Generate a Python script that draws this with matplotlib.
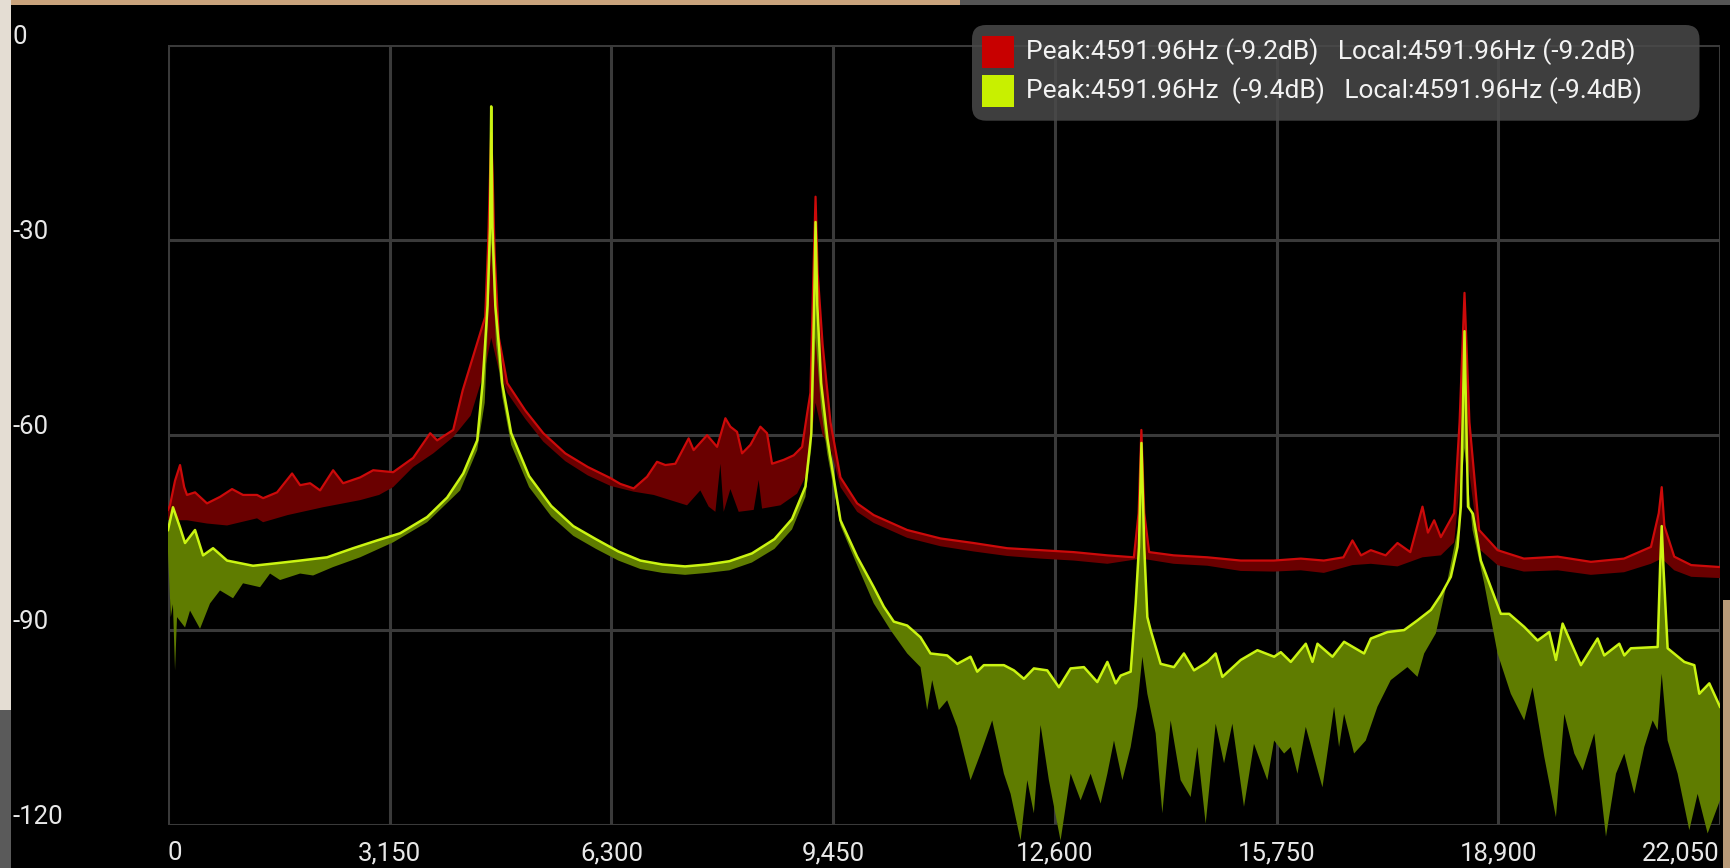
import numpy as np
import matplotlib
matplotlib.use("Agg")
import matplotlib.pyplot as plt
from matplotlib.patches import FancyBboxPatch, Rectangle
from matplotlib.transforms import blended_transform_factory, offset_copy

# ---------------- data ----------------
x_ticks = [0, 3150, 6300, 9450, 12600, 15750, 18900, 22050]
x_tick_labels = ["0", "3,150", "6,300", "9,450", "12,600", "15,750", "18,900", "22,050"]
y_ticks = [0, -30, -60, -90, -120]
y_tick_labels = ["0", "-30", "-60", "-90", "-120"]

legend_rows = [
    "Peak:4591.96Hz (-9.2dB)   Local:4591.96Hz (-9.2dB)",
    "Peak:4591.96Hz  (-9.4dB)   Local:4591.96Hz (-9.4dB)",
]

# channel 1 (red) upper envelope
red_up_hz = [0, 28, 100, 171, 230, 270, 384, 554, 739, 910, 1066, 1265, 1351, 1550, 1763, 1877,
             2019, 2161, 2346, 2488, 2730, 2915, 3199, 3483, 3725, 3824, 4052, 4187, 4436, 4507,
             4550, 4575, 4592, 4612, 4640, 4700, 4820, 5076, 5332, 5644, 5964, 6284, 6426, 6616,
             6806, 6948, 7066, 7208, 7397, 7468, 7659, 7801, 7919, 7990, 8085, 8156, 8274, 8416,
             8511, 8582, 8748, 8890, 9009, 9080, 9127, 9170, 9200, 9230, 9300, 9412, 9554, 9791,
             10026, 10502, 10976, 11445, 11924, 12397, 12867, 13346, 13722, 13790, 13829, 13870,
             13940, 14288, 14767, 15241, 15710, 16094, 16421, 16700, 16828, 16950, 17089, 17300,
             17468, 17650, 17823, 17900, 17989, 18084, 18273, 18350, 18420, 18490, 18628, 18890,
             19264, 19743, 20216, 20686, 21069, 21180, 21222, 21260, 21400, 21641, 22050]
red_up_db = [-71.5, -70.8, -67.0, -64.6, -68.0, -69.2, -68.8, -70.5, -69.5, -68.3, -69.2, -69.2,
             -69.7, -68.8, -65.9, -67.7, -67.4, -68.5, -65.4, -67.4, -66.5, -65.4, -65.7, -63.5,
             -59.7, -60.8, -59.2, -53.1, -44.3, -41.8, -30.0, -20.0, -13.5, -20.0, -32.0, -45.0,
             -52.0, -56.2, -59.7, -62.8, -64.9, -66.6, -67.5, -68.2, -66.4, -64.1, -64.6, -64.4,
             -60.5, -62.3, -60.0, -61.8, -57.4, -58.7, -59.5, -62.8, -61.5, -58.7, -59.7, -64.4,
             -63.8, -63.1, -61.8, -56.7, -53.5, -35.0, -23.3, -35.0, -46.0, -58.0, -66.5, -70.5,
             -72.3, -74.6, -75.9, -76.6, -77.4, -77.7, -78.0, -78.5, -78.8, -72.0, -59.2, -72.0,
             -78.0, -78.5, -78.8, -79.3, -79.3, -79.0, -79.3, -78.8, -76.2, -78.5, -77.7, -78.5,
             -76.6, -78.0, -71.0, -75.0, -73.1, -75.7, -72.0, -58.0, -38.1, -58.0, -74.6, -77.7,
             -79.0, -78.7, -79.5, -79.0, -77.2, -72.0, -68.0, -74.0, -78.7, -80.0, -80.3]

# channel 1 (red) lower envelope
red_lo_hz = [0, 28, 270, 554, 839, 1265, 1351, 1700, 2200, 2730, 3000, 3199, 3483, 3770, 4052,
             4300, 4500, 4592, 4700, 4820, 5076, 5332, 5644, 5964, 6284, 6616, 6900, 7374, 7563,
             7682, 7777, 7848, 7895, 7990, 8108, 8321, 8392, 8440, 8701, 8938, 9080, 9200, 9300,
             9412, 9554, 9791, 10026, 10502, 10976, 11445, 11924, 12397, 12867, 13346, 13829,
             14288, 14767, 15241, 15710, 16094, 16421, 16828, 17089, 17468, 17823, 18084, 18273,
             18420, 18628, 18890, 19264, 19743, 20216, 20686, 21069, 21222, 21400, 21641, 22050]
red_lo_db = [-73.0, -73.1, -73.1, -73.6, -73.9, -72.8, -73.4, -72.3, -71.1, -70.0, -69.2, -68.0,
             -64.9, -62.8, -60.3, -57.0, -50.0, -45.0, -50.0, -53.5, -57.5, -61.0, -64.0, -66.2,
             -67.8, -68.7, -69.2, -70.8, -68.5, -71.0, -71.8, -64.4, -71.8, -68.3, -71.8, -71.5,
             -66.9, -71.3, -70.8, -69.0, -65.9, -55.0, -60.0, -62.0, -68.0, -71.8, -73.5, -75.8,
             -77.1, -77.9, -78.6, -79.0, -79.3, -79.8, -79.0, -79.8, -80.1, -80.9, -81.0, -80.8,
             -81.2, -80.0, -79.8, -80.2, -78.8, -78.5, -76.5, -60.0, -77.5, -80.0, -81.0, -80.8,
             -81.5, -81.1, -79.8, -79.0, -80.8, -81.8, -82.0]

# channel 2 (yellow-green) upper envelope
grn_up_hz = [0, 71, 171, 242, 384, 498, 640, 839, 1208, 1550, 1877, 2260, 2630, 2971, 3298, 3682,
             3966, 4194, 4393, 4470, 4540, 4575, 4592, 4610, 4650, 4748, 4876, 5130, 5445, 5758,
             6079, 6398, 6711, 7023, 7346, 7663, 7976, 8296, 8616, 8866, 9056, 9140, 9180, 9200,
             9225, 9280, 9369, 9554, 9791, 10027, 10170, 10312, 10502, 10691, 10833, 11070, 11213,
             11402, 11497, 11591, 11876, 12018, 12160, 12302, 12492, 12658, 12824, 13013, 13203,
             13346, 13464, 13535, 13677, 13748, 13795, 13830, 13870, 13914, 13961, 14103, 14292,
             14434, 14577, 14767, 14885, 14980, 15241, 15478, 15715, 15810, 15952, 16165, 16260,
             16331, 16544, 16709, 16993, 17089, 17326, 17562, 17752, 17942, 18084, 18226, 18321,
             18368, 18420, 18470, 18540, 18652, 18794, 18936, 19055, 19268, 19458, 19624, 19719,
             19814, 20074, 20311, 20405, 20619, 20690, 20784, 21164, 21200, 21222, 21245, 21306,
             21543, 21685, 21756, 21898, 22050]
grn_up_db = [-74.6, -71.1, -74.2, -76.6, -74.6, -78.5, -77.4, -79.3, -80.1, -79.7, -79.3, -78.8,
             -77.4, -76.2, -75.1, -72.6, -69.6, -65.9, -60.8, -52.0, -40.0, -28.0, -9.4, -28.0,
             -40.0, -52.0, -59.7, -66.3, -70.9, -74.0, -76.0, -77.9, -79.3, -79.9, -80.2, -79.9,
             -79.4, -78.2, -76.0, -72.9, -67.9, -59.7, -40.0, -27.2, -40.0, -52.0, -60.5, -73.1,
             -78.7, -83.4, -86.4, -88.7, -89.3, -91.1, -93.6, -93.9, -95.2, -94.1, -96.4, -95.4,
             -95.4, -96.2, -97.5, -95.9, -96.2, -98.8, -95.9, -95.7, -98.0, -94.9, -98.2, -97.0,
             -96.4, -85.9, -77.2, -61.2, -77.2, -88.0, -90.0, -95.2, -95.7, -93.6, -96.2, -94.9,
             -93.6, -97.2, -94.6, -93.1, -94.1, -93.4, -94.9, -92.1, -94.9, -92.1, -94.1, -91.8,
             -93.6, -91.3, -90.3, -90.0, -88.5, -86.9, -84.6, -81.8, -77.2, -71.0, -44.0, -71.0,
             -72.1, -79.3, -83.4, -87.5, -87.5, -89.5, -91.6, -90.3, -94.6, -89.0, -95.4, -91.3,
             -93.9, -92.1, -93.9, -92.8, -92.6, -80.0, -74.0, -80.0, -92.8, -94.9, -95.4, -99.8,
             -98.2, -101.8]

# channel 2 (yellow-green) lower envelope
grn_lo_hz = [0, 40, 70, 100, 128, 242, 313, 455, 597, 739, 924, 1066, 1308, 1450, 1592, 1877,
             2061, 2346, 2730, 3199, 3682, 4151, 4393, 4500, 4592, 4660, 4748, 4876, 5130, 5445,
             5758, 6079, 6398, 6711, 7023, 7346, 7663, 7976, 8296, 8616, 8866, 9056, 9140, 9200,
             9280, 9369, 9554, 9791, 10027, 10265, 10502, 10691, 10786, 10857, 10952, 11070,
             11213, 11402, 11544, 11710, 11876, 11971, 12113, 12208, 12302, 12397, 12515, 12681,
             12824, 12966, 13108, 13250, 13346, 13440, 13559, 13677, 13772, 13843, 13914, 14032,
             14127, 14245, 14387, 14529, 14624, 14743, 14885, 15004, 15122, 15287, 15429, 15619,
             15715, 15857, 15952, 16047, 16165, 16402, 16567, 16638, 16709, 16851, 17017, 17183,
             17372, 17609, 17752, 17847, 18013, 18179, 18321, 18420, 18534, 18700, 18890, 19078,
             19268, 19387, 19553, 19719, 19838, 19980, 20099, 20264, 20430, 20572, 20690, 20832,
             20974, 21093, 21164, 21222, 21306, 21448, 21614, 21732, 21874, 22050]
grn_lo_db = [-78.0, -88.0, -86.0, -96.2, -88.0, -89.6, -87.0, -89.8, -85.9, -83.9, -85.1, -82.8,
             -83.4, -81.3, -82.3, -81.3, -81.6, -80.3, -78.8, -76.5, -73.4, -68.5, -62.3, -55.0,
             -30.0, -46.0, -54.0, -61.5, -68.0, -72.5, -75.5, -77.5, -79.3, -80.6, -81.2, -81.5,
             -81.2, -80.8, -79.6, -77.5, -74.5, -69.5, -62.0, -45.0, -56.0, -63.0, -73.9, -80.0,
             -85.9, -90.0, -93.6, -95.7, -102.3, -97.7, -102.3, -100.8, -104.9, -113.1, -109.0,
             -103.9, -112.1, -115.2, -122.4, -113.1, -118.2, -104.6, -113.1, -122.4, -112.1,
             -116.2, -112.1, -116.7, -112.1, -107.0, -113.1, -108.0, -101.8, -94.1, -99.8, -105.9,
             -118.2, -103.9, -113.1, -115.7, -108.0, -119.8, -104.4, -110.5, -104.4, -117.2,
             -107.5, -113.1, -107.0, -109.0, -108.0, -112.1, -104.9, -114.2, -101.8, -108.0,
             -102.9, -109.0, -107.0, -101.8, -97.7, -95.7, -97.2, -93.6, -90.5, -82.3, -74.6,
             -62.0, -74.6, -82.8, -93.6, -99.8, -103.9, -98.8, -109.5, -118.8, -102.9, -109.0,
             -111.6, -105.9, -121.8, -112.1, -109.0, -115.2, -108.0, -103.9, -105.4, -96.7, -107.0,
             -112.1, -120.8, -115.2, -121.3, -116.2]

# ---------------- styling ----------------
W, H, DPI = 1731, 868, 100
BG = "#000000"
GRID = "#3a3a3a"
TXT = "#e8e8e8"
RED_FILL = "#6a0000"
RED_LINE = "#cc0a0a"
GRN_FILL = "#5f7c00"
GRN_LINE = "#d4ff14"
FONT = "Roboto"

fig = plt.figure(figsize=(W / DPI, H / DPI), dpi=DPI, facecolor=BG)
ax = fig.add_axes([168 / W, 1 - 825 / H, (1720 - 168) / W, (825 - 45.3) / H])
ax.set_facecolor(BG)
ax.set_xlim(x_ticks[0], x_ticks[-1])
ax.set_ylim(y_ticks[-1], y_ticks[0])
for s in ax.spines.values():
    s.set_visible(False)
ax.set_xticks(x_ticks)
ax.set_yticks(y_ticks)
ax.tick_params(length=0, labelbottom=False, labelleft=False)
ax.grid(True, color=GRID, lw=2.2, zorder=0)
ax.set_axisbelow(True)

# red channel
ax.fill(np.concatenate([red_up_hz, red_lo_hz[::-1]]),
        np.concatenate([red_up_db, red_lo_db[::-1]]),
        color=RED_FILL, lw=0, zorder=2)
ax.plot(red_up_hz, red_up_db, color=RED_LINE, lw=1.6, zorder=3)

# green channel
ax.fill(np.concatenate([grn_up_hz, grn_lo_hz[::-1]]),
        np.concatenate([grn_up_db, grn_lo_db[::-1]]),
        color=GRN_FILL, lw=0, zorder=4, clip_on=False)
ax.plot(grn_up_hz, grn_up_db, color=GRN_LINE, lw=1.8, zorder=5, alpha=0.95)

# y tick labels (left edge of the screen, slightly above the grid lines)
ytr = offset_copy(blended_transform_factory(fig.transFigure, ax.transData),
                  fig=fig, x=0, y=8, units="dots")
for v, lab in zip(y_ticks, y_tick_labels):
    fig.text(13 / W, v, lab, transform=ytr, ha="left", va="center",
             color=TXT, fontsize=18.5, family=FONT)

# x tick labels
xtr = blended_transform_factory(ax.transData, fig.transFigure)
for i, (v, lab) in enumerate(zip(x_ticks, x_tick_labels)):
    ha = "left" if i == 0 else ("right" if i == len(x_ticks) - 1 else "center")
    fig.text(v, 1 - 853 / H, lab, transform=xtr, ha=ha, va="center",
             color=TXT, fontsize=18.5, family=FONT)

# legend panel
inch = fig.dpi_scale_trans
panel = FancyBboxPatch((972 / DPI, (H - 120.7) / DPI), (1699.5 - 972) / DPI, 95.7 / DPI,
                       boxstyle="round,pad=0,rounding_size=0.14", transform=inch,
                       facecolor="#4a4a4a", edgecolor="none", alpha=0.85, zorder=10)
fig.patches.append(panel)
swatch_colors = ["#c80000", "#c8f000"]
row_y = [52, 90.7]
for c, yy, txt in zip(swatch_colors, row_y, legend_rows):
    fig.patches.append(Rectangle((982 / DPI, (H - yy - 16) / DPI), 32 / DPI, 32 / DPI,
                                 transform=inch, facecolor=c, edgecolor="none", zorder=11))
    fig.text(1025.7 / W, 1 - yy / H, txt, ha="left", va="center", color="#f2f2f2",
             fontsize=19, family=FONT, zorder=12)

# photo frame edges (wood / wall around the screen)
fig.patches.append(Rectangle((0, 1 - 5 / H), 960 / W, 5 / H, transform=fig.transFigure,
                             facecolor="#c9a37c", edgecolor="none", zorder=20))
fig.patches.append(Rectangle((960 / W, 1 - 5 / H), 1 - 960 / W, 5 / H, transform=fig.transFigure,
                             facecolor="#555555", edgecolor="none", zorder=20))
fig.patches.append(Rectangle((0, 1 - 710 / H), 11 / W, 710 / H, transform=fig.transFigure,
                             facecolor="#e4ddd3", edgecolor="none", zorder=20))
fig.patches.append(Rectangle((0, 0), 11 / W, 158 / H, transform=fig.transFigure,
                             facecolor="#5a5a5a", edgecolor="none", zorder=20))
fig.patches.append(Rectangle((1723 / W, 0), 8 / W, 1 - 600 / H, transform=fig.transFigure,
                             facecolor="#b89a78", edgecolor="none", zorder=20))

fig.savefig("out.png", dpi=DPI, facecolor=BG)
